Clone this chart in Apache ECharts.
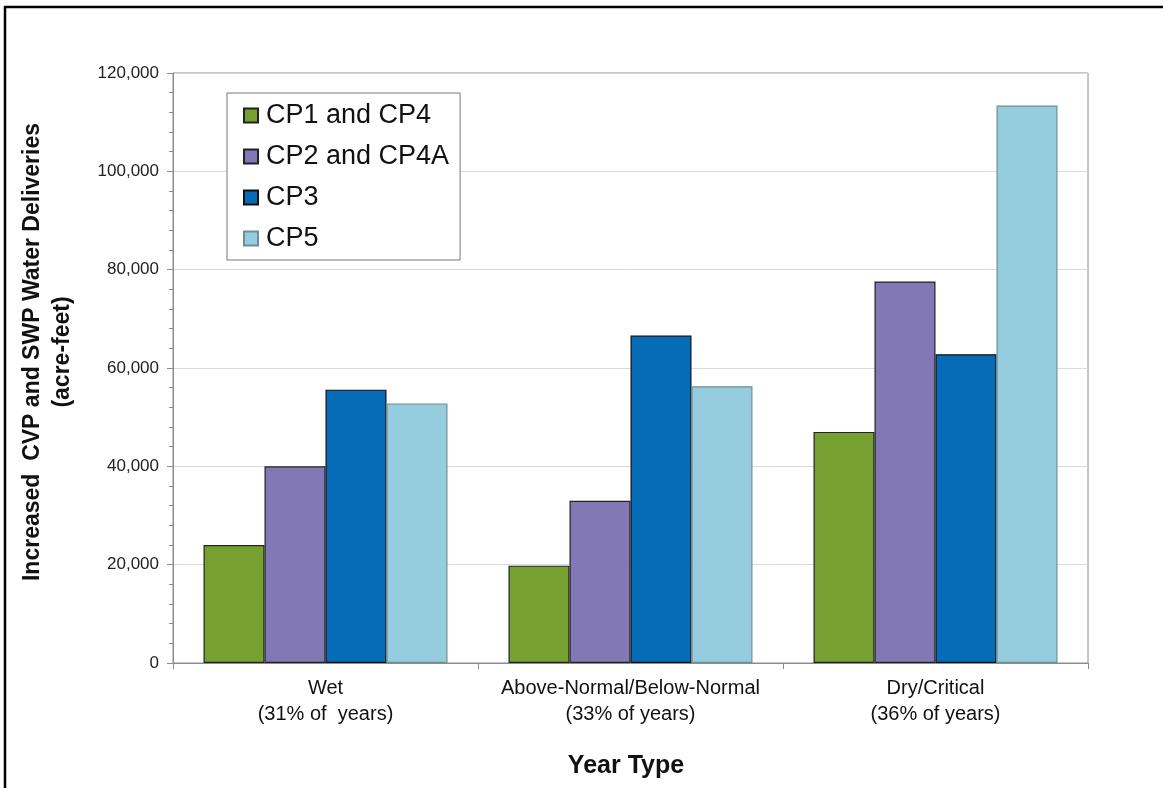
<html>
<head>
    <meta http-equiv="Content-Type" content="text/html; charset=utf-8">
    <script type="text/javascript" src="https://cdn.jsdelivr.net/npm/echarts@6/dist/echarts.min.js"></script>
    <style>
        html, body { margin: 0; padding: 0; background: #fff; }
        #main { width: 1163px; height: 788px; }
    </style>
</head>
<body>
<div id="main"></div>
<script type="text/javascript">
    // year types
    var categories = ['Wet\n(31% of  years)', 'Above-Normal/Below-Normal\n(33% of years)', 'Dry/Critical\n(36% of years)'];
    var seriesNames = ['CP1 and CP4', 'CP2 and CP4A', 'CP3', 'CP5'];
    // acre-feet
    var cp1 = [24000, 19800, 47000];
    var cp2 = [40000, 33000, 77600];
    var cp3 = [55600, 66600, 62800];
    var cp5 = [52800, 56300, 113400];
    var yTicks = [0, 20000, 40000, 60000, 80000, 100000, 120000];

    var colors = ['#77a033', '#8278b6', '#066cb7', '#95cdde'];
    var borders = ['#222', '#222', '#111', '#6f8f98'];
    var values = [cp1, cp2, cp3, cp5];

    var series = [];
    for (var i = 0; i < seriesNames.length; i++) {
        series.push({
            name: seriesNames[i],
            type: 'bar',
            data: values[i],
            barGap: '0%',
            barCategoryGap: '20%',
            itemStyle: {
                color: colors[i],
                borderColor: borders[i],
                borderWidth: 1.2
            }
        });
    }

    var myChart = echarts.init(document.getElementById('main'));
    myChart.setOption({
        animation: false,
        backgroundColor: '#fff',
        textStyle: { fontFamily: 'Liberation Sans, Arial, sans-serif' },
        grid: {
            left: 173, right: 75, top: 73, bottom: 125,
            show: true, borderColor: '#8c8c8c', borderWidth: 1
        },
        legend: {
            orient: 'vertical',
            left: 227, top: 93,
            padding: [9, 11, 8, 16],
            itemWidth: 14, itemHeight: 14,
            itemGap: 14,
            backgroundColor: '#fff',
            borderColor: '#777',
            borderWidth: 1,
            borderRadius: 0,
            icon: 'rect',
            data: seriesNames,
            textStyle: { fontSize: 27, lineHeight: 27, color: '#111', padding: [0, 0, 0, 3] }
        },
        xAxis: {
            type: 'category',
            data: categories,
            axisLine: { lineStyle: { color: '#8c8c8c' } },
            axisTick: { show: true, length: 6, lineStyle: { color: '#8c8c8c' } },
            axisLabel: { interval: 0, fontSize: 20, lineHeight: 26, color: '#111', margin: 12 }
        },
        yAxis: {
            type: 'value',
            min: yTicks[0],
            max: yTicks[yTicks.length - 1],
            interval: 20000,
            axisLine: { show: true, lineStyle: { color: '#8c8c8c' } },
            axisTick: { show: true, length: 6, lineStyle: { color: '#8c8c8c' } },
            minorTick: { show: true, splitNumber: 5, length: 4, lineStyle: { color: '#8c8c8c' } },
            splitLine: { lineStyle: { color: '#d9d9d9', width: 1 } },
            axisLabel: {
                fontSize: 17, color: '#222', margin: 14,
                formatter: function (v) { return v.toLocaleString('en-US'); }
            }
        },
        graphic: [
            {
                type: 'rect', z: -10, silent: true,
                shape: { x: 5, y: 7, width: 1300, height: 900 },
                style: { fill: 'none', stroke: '#000', lineWidth: 2.5 }
            },
            {
                type: 'text', x: 48, y: 352, rotation: Math.PI / 2,
                style: {
                    text: 'Increased  CVP and SWP Water Deliveries\n(acre-feet)',
                    font: 'bold 23px Liberation Sans, Arial, sans-serif',
                    fill: '#111', align: 'center', verticalAlign: 'middle', lineHeight: 30
                }
            },
            {
                type: 'text', x: 626, y: 766,
                style: {
                    text: 'Year Type',
                    font: 'bold 25px Liberation Sans, Arial, sans-serif',
                    fill: '#111', align: 'center', verticalAlign: 'middle'
                }
            }
        ],
        series: series
    });
</script>
</body>
</html>
